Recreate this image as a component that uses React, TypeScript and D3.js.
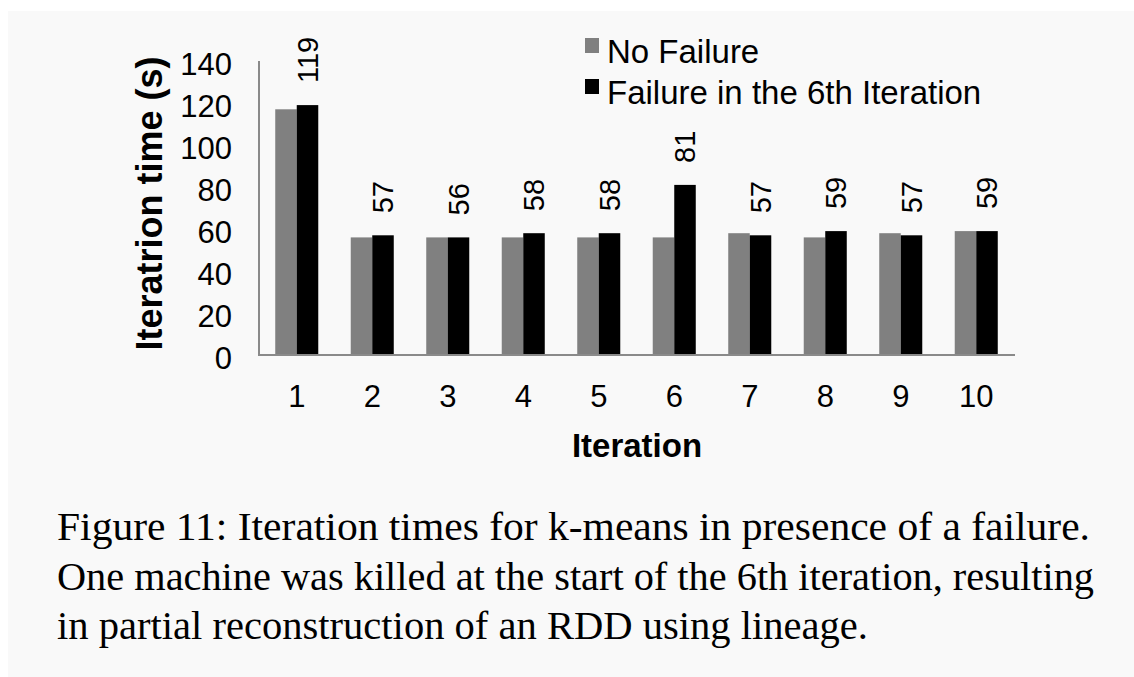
import React from "react";
import * as d3 from "d3";

const iterations = ["1", "2", "3", "4", "5", "6", "7", "8", "9", "10"];
const seriesNames = ["No Failure", "Failure in the 6th Iteration"];
const noFailure = [117, 56, 56, 56, 56, 56, 58, 56, 58, 59];
const withFailure = [119, 57, 56, 58, 58, 81, 57, 59, 57, 59];
const yTicks = [0, 20, 40, 60, 80, 100, 120, 140];
const captionLines = [
  "Figure 11: Iteration times for k-means in presence of a failure.",
  "One machine was killed at the start of the 6th iteration, resulting",
  "in partial reconstruction of an RDD using lineage.",
];
const captionLengths = [1033, 1037, 811];

const colors = ["#808080", "#000000"];
const sans = "'Liberation Sans', Arial, Helvetica, sans-serif";
const serif = "'Liberation Serif', 'Times New Roman', serif";

export default function App() {
  const left = 259;
  const right = 1014;
  const y = d3.scaleLinear().domain([0, 140]).range([355, 61]);
  const x0 = d3.scaleBand<string>().domain(iterations).range([left, right]).padding(0);
  const x1 = d3
    .scaleBand<string>()
    .domain(seriesNames)
    .range([0, x0.bandwidth()])
    .paddingInner(0)
    .paddingOuter(0.755);
  const series = [noFailure, withFailure];

  return (
    <svg
      width={1134}
      height={677}
      style={{ position: "fixed", left: 0, top: 0, display: "block" }}
    >
      <rect x={0} y={0} width={1134} height={677} fill="#ffffff" />
      <rect x={8} y={11} width={1126} height={666} fill="#f9f9f9" />

      {/* bars */}
      {iterations.map((it, i) => (
        <g key={it} transform={`translate(${x0(it)},0)`}>
          {seriesNames.map((s, si) => (
            <rect
              key={s}
              x={x1(s)}
              y={y(series[si][i])}
              width={x1.bandwidth()}
              height={y(0) - y(series[si][i])}
              fill={colors[si]}
            />
          ))}
          <text
            transform={`translate(${(x1(seriesNames[1]) as number) + x1.bandwidth() / 2},${
              y(withFailure[i]) - 22
            }) rotate(-90)`}
            dy="0.36em"
            fontFamily={sans}
            fontSize={29}
            fill="#000"
          >
            {withFailure[i]}
          </text>
        </g>
      ))}

      {/* axes */}
      <line x1={left} x2={left} y1={y(140)} y2={y(0)} stroke="#8a8a8a" strokeWidth={2} />
      <line x1={left - 1} x2={right + 1} y1={y(0)} y2={y(0)} stroke="#8a8a8a" strokeWidth={2} />

      {yTicks.map((t) => (
        <text
          key={t}
          x={232}
          y={y(t) + 14}
          textAnchor="end"
          fontFamily={sans}
          fontSize={31}
          fill="#000"
        >
          {t}
        </text>
      ))}

      {iterations.map((it) => (
        <text
          key={it}
          x={(x0(it) as number) + x0.bandwidth() / 2}
          y={407}
          textAnchor="middle"
          fontFamily={sans}
          fontSize={31}
          fill="#000"
        >
          {it}
        </text>
      ))}

      <text
        x={637}
        y={457}
        textAnchor="middle"
        fontFamily={sans}
        fontWeight="bold"
        fontSize={33}
        fill="#000"
      >
        Iteration
      </text>

      <text
        transform={`translate(162,203.5) rotate(-90)`}
        textAnchor="middle"
        fontFamily={sans}
        fontWeight="bold"
        fontSize={36}
        fill="#000"
      >
        Iteratrion time (s)
      </text>

      {/* legend */}
      {seriesNames.map((s, si) => (
        <g key={s} transform={`translate(585,${38 + si * 41})`}>
          <rect x={0} y={0} width={14} height={15} fill={colors[si]} />
          <text x={22} y={25} fontFamily={sans} fontSize={33} fill="#000">
            {s}
          </text>
        </g>
      ))}

      {/* caption */}
      {captionLines.map((line, i) => (
        <text
          key={i}
          x={57}
          y={540 + i * 49.5}
          fontFamily={serif}
          fontSize={39}
          fill="#000"
          textLength={captionLengths[i]}
          lengthAdjust="spacingAndGlyphs"
        >
          {line}
        </text>
      ))}
    </svg>
  );
}
